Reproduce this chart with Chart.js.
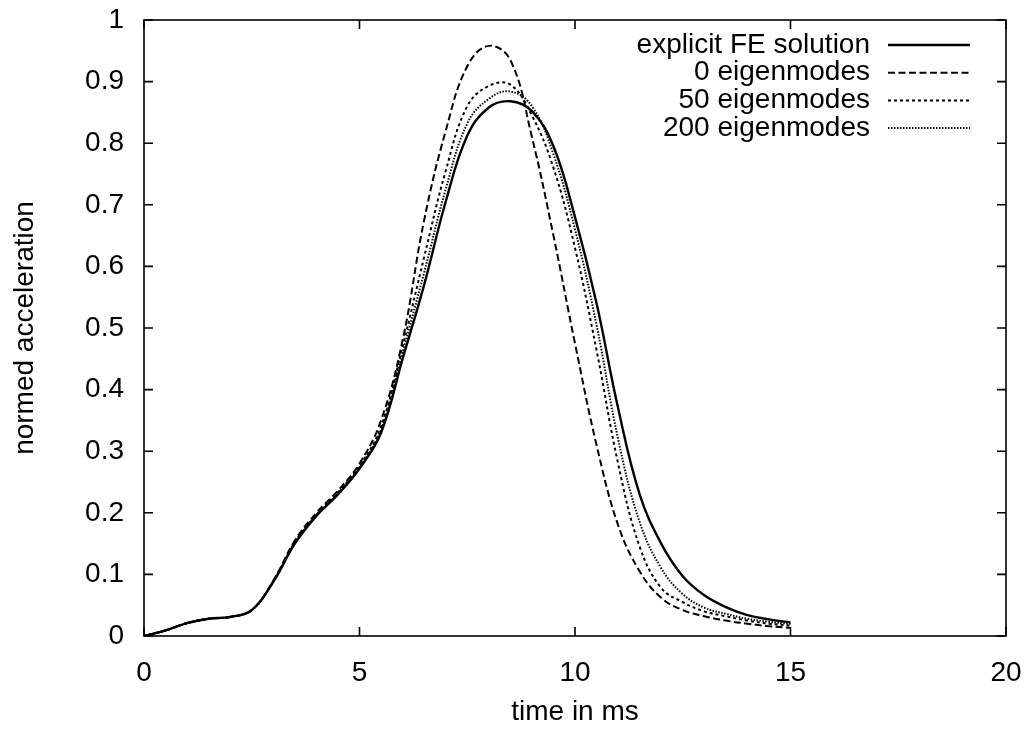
<!DOCTYPE html>
<html>
<head>
<meta charset="utf-8">
<script src="https://cdn.jsdelivr.net/npm/chart.js@4.4.1/dist/chart.umd.min.js"></script>
<style>
  body { margin: 0; background: #fff; }
  #wrap { width: 1031px; height: 729px; }
</style>
</head>
<body>
<div id="wrap"><canvas id="chart" width="1031" height="729"></canvas></div>
<script>
// time in ms
const time = [0, 0.5, 1, 1.5, 2, 2.5, 3, 3.5, 4, 4.5, 5, 5.5, 6, 6.5, 7, 7.5, 8, 8.5, 9, 9.5, 10, 10.5, 11, 11.5, 12, 12.5, 13, 13.5, 14, 14.5, 15];

// normed acceleration
const feSolution = [0, 0.009, 0.021, 0.028, 0.031, 0.042, 0.088, 0.150, 0.195, 0.230, 0.272, 0.330, 0.450, 0.570, 0.705, 0.812, 0.858, 0.868, 0.852, 0.795, 0.680, 0.540, 0.370, 0.230, 0.150, 0.097, 0.066, 0.047, 0.034, 0.027, 0.022];
const modes0     = [0, 0.009, 0.021, 0.028, 0.031, 0.042, 0.090, 0.155, 0.200, 0.236, 0.280, 0.350, 0.480, 0.675, 0.820, 0.925, 0.958, 0.935, 0.810, 0.650, 0.475, 0.310, 0.180, 0.105, 0.062, 0.042, 0.032, 0.025, 0.020, 0.016, 0.013];
const modes50    = [0, 0.009, 0.021, 0.028, 0.031, 0.042, 0.089, 0.152, 0.197, 0.233, 0.276, 0.340, 0.470, 0.615, 0.755, 0.860, 0.893, 0.895, 0.845, 0.760, 0.630, 0.464, 0.280, 0.145, 0.078, 0.055, 0.040, 0.032, 0.025, 0.020, 0.017];
const modes200   = [0, 0.009, 0.021, 0.028, 0.031, 0.042, 0.088, 0.151, 0.196, 0.231, 0.274, 0.335, 0.460, 0.590, 0.725, 0.832, 0.872, 0.884, 0.860, 0.782, 0.660, 0.505, 0.320, 0.185, 0.110, 0.068, 0.046, 0.036, 0.028, 0.023, 0.020];

const seriesNames = ['explicit FE solution', '0 eigenmodes', '50 eigenmodes', '200 eigenmodes'];
const xTicks = [0, 5, 10, 15, 20];
const yTicks = [0, 0.1, 0.2, 0.3, 0.4, 0.5, 0.6, 0.7, 0.8, 0.9, 1];

const FONT = '"Liberation Sans", Arial, Helvetica, sans-serif';
const FSIZE = 28;

function pts(vals) {
    return time.map((t, i) => ({ x: t, y: vals[i] }));
}

function line(label, vals, dash, width) {
    return {
        label: label,
        data: pts(vals),
        borderColor: '#000',
        backgroundColor: '#000',
        borderWidth: width,
        borderDash: dash,
        pointRadius: 0,
        fill: false,
        tension: 0.4
    };
}

// frame with inward ticks on all four sides (gnuplot look)
const framePlugin = {
    id: 'frame',
    afterDatasetsDraw(chart) {
        const ctx = chart.ctx;
        const a = chart.chartArea;
        const xs = chart.scales.x, ys = chart.scales.y;
        ctx.save();
        ctx.strokeStyle = '#000';
        ctx.lineWidth = 1.6;
        ctx.setLineDash([]);
        ctx.strokeRect(a.left, a.top, a.right - a.left, a.bottom - a.top);
        const len = 9;
        ctx.beginPath();
        xs.ticks.forEach(t => {
            const px = xs.getPixelForValue(t.value);
            ctx.moveTo(px, a.bottom); ctx.lineTo(px, a.bottom - len);
            ctx.moveTo(px, a.top); ctx.lineTo(px, a.top + len);
        });
        ys.ticks.forEach(t => {
            const py = ys.getPixelForValue(t.value);
            ctx.moveTo(a.left, py); ctx.lineTo(a.left + len, py);
            ctx.moveTo(a.right, py); ctx.lineTo(a.right - len, py);
        });
        ctx.stroke();
        ctx.restore();
    }
};

// gnuplot style key: text right aligned, sample line on the right
const keyPlugin = {
    id: 'key',
    afterDraw(chart) {
        const ctx = chart.ctx;
        const a = chart.chartArea;
        const textRight = a.right - 136;
        const lineFrom = a.right - 118, lineTo = a.right - 36;
        ctx.save();
        ctx.font = FSIZE + 'px ' + FONT;
        ctx.fillStyle = '#000';
        ctx.textAlign = 'right';
        ctx.textBaseline = 'middle';
        chart.data.datasets.forEach((ds, i) => {
            const y = a.top + 25 + i * 27.7;
            ctx.fillText(ds.label, textRight, y);
            ctx.beginPath();
            ctx.strokeStyle = ds.borderColor;
            ctx.lineWidth = ds.borderWidth;
            ctx.setLineDash(ds.borderDash);
            ctx.moveTo(lineFrom, y);
            ctx.lineTo(lineTo, y);
            ctx.stroke();
        });
        ctx.restore();
    }
};

new Chart(document.getElementById('chart'), {
    type: 'line',
    data: {
        datasets: [
            line(seriesNames[0], feSolution, [], 2.4),
            line(seriesNames[1], modes0, [7, 3.5], 2),
            line(seriesNames[2], modes50, [3, 3], 2),
            line(seriesNames[3], modes200, [1.5, 1.5], 2)
        ]
    },
    plugins: [framePlugin, keyPlugin],
    options: {
        responsive: false,
        animation: false,
        devicePixelRatio: 1,
        layout: { padding: { left: 0, right: 25, top: 20, bottom: 0 } },
        plugins: {
            legend: { display: false },
            tooltip: { enabled: false }
        },
        scales: {
            x: {
                type: 'linear',
                min: 0, max: 20,
                afterBuildTicks(scale) { scale.ticks = xTicks.map(v => ({ value: v })); },
                afterFit(scale) {
                    scale.height = 93;
                    scale.paddingLeft = 0;
                    scale.paddingRight = 0;
                },
                border: { display: false },
                grid: { display: false },
                ticks: {
                    color: '#000',
                    font: { family: FONT, size: FSIZE },
                    padding: 12,
                    maxRotation: 0
                },
                title: {
                    display: true,
                    text: 'time in ms',
                    color: '#000',
                    font: { family: FONT, size: FSIZE },
                    padding: { top: 0, bottom: 0 }
                }
            },
            y: {
                type: 'linear',
                min: 0, max: 1,
                afterBuildTicks(scale) { scale.ticks = yTicks.map(v => ({ value: v })); },
                afterFit(scale) {
                    scale.width = 144;
                    scale.paddingTop = 0;
                    scale.paddingBottom = 0;
                },
                border: { display: false },
                grid: { display: false },
                ticks: {
                    color: '#000',
                    font: { family: FONT, size: FSIZE },
                    padding: 12,
                    callback: v => String(Math.round(v * 10) / 10)
                },
                title: {
                    display: true,
                    text: 'normed acceleration',
                    color: '#000',
                    font: { family: FONT, size: FSIZE },
                    padding: { top: 8, bottom: 0 }
                }
            }
        }
    }
});
</script>
</body>
</html>
